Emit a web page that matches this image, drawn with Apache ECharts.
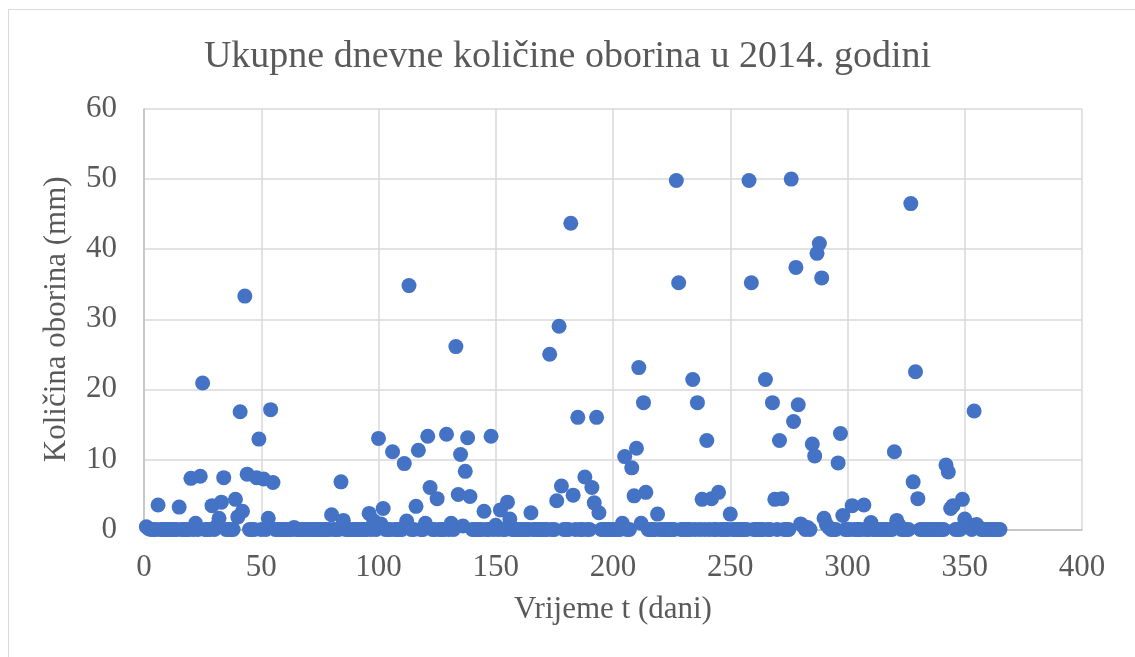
<!DOCTYPE html>
<html>
<head>
<meta charset="utf-8">
<script src="https://cdn.jsdelivr.net/npm/echarts@6/dist/echarts.min.js"></script>
<style>
  html, body { margin: 0; padding: 0; background: #fff; }
  #chart { width: 1135px; height: 657px; }
</style>
</head>
<body>
<div id="chart"></div>
<script>
// dnevne količine oborina (mm), dan 1 .. 365, po 10 dana u retku
var rain = [
  0.4, 0.1, 0, 0, 0, 3.5, 0, 0, 0, 0,
  0, 0, 0, 0, 3.2, 0, 0, 0, 0, 7.3,
  0, 0.9, 0, 7.6, 20.9, 0, 0, 0, 3.4, 0,
  0.5, 1.6, 3.9, 7.4, 0, 0, 0, 0, 4.3, 1.8,
  16.8, 2.6, 33.3, 7.9, 0, 0, 0, 7.4, 12.9, 0,
  7.2, 0, 1.6, 17.1, 6.7, 0, 0, 0, 0, 0,
  0, 0, 0, 0.3, 0, 0, 0, 0, 0, 0,
  0, 0, 0, 0, 0, 0, 0, 0, 0, 2.1,
  0, 0, 0, 6.8, 1.3, 0, 0, 0, 0, 0,
  0, 0, 0, 0, 0, 2.3, 0, 1.2, 0, 13.0,
  0.8, 3.0, 0, 0, 0, 11.1, 0, 0, 0, 0,
  9.4, 1.2, 34.8, 0, 0, 3.3, 11.3, 0, 0, 0.9,
  13.3, 6.0, 0, 0, 4.4, 0, 0, 0, 13.6, 0,
  0.9, 0, 26.1, 5.0, 10.7, 0.5, 8.3, 13.1, 4.7, 0,
  0, 0, 0, 0, 2.6, 0, 0, 13.3, 0, 0.6,
  0, 2.8, 0, 0, 3.9, 1.5, 0, 0, 0, 0,
  0, 0, 0, 0, 2.4, 0, 0, 0, 0, 0,
  0, 0, 25.0, 0, 0, 4.1, 29.0, 6.2, 0, 0,
  0, 43.7, 4.9, 0, 16.0, 0, 0, 7.5, 0, 0,
  6.0, 3.8, 16.0, 2.4, 0, 0, 0, 0, 0, 0,
  0, 0, 0, 0.9, 10.4, 0, 0, 8.8, 4.8, 11.6,
  23.1, 0.9, 18.1, 5.3, 0, 0, 0, 0, 2.2, 0,
  0, 0, 0, 0, 0, 0, 49.8, 35.2, 0, 0,
  0, 0, 0, 21.4, 0, 18.1, 0, 4.3, 0, 12.7,
  0, 4.4, 0, 0, 5.3, 0, 0, 0, 0, 2.2,
  0, 0, 0, 0, 0, 0, 0, 49.8, 35.2, 0,
  0, 0, 0, 0, 21.4, 0, 0, 18.1, 4.3, 0,
  12.7, 4.4, 0, 0, 0, 50.0, 15.4, 37.4, 17.8, 0.8,
  0.5, 0, 0.3, 0, 12.2, 10.5, 39.4, 40.8, 35.9, 1.6,
  0.7, 0.3, 0, 0, 0, 9.5, 13.7, 2.0, 0, 0,
  0, 3.4, 0, 0, 0, 0, 3.5, 0, 0, 1.0,
  0, 0, 0, 0, 0, 0, 0, 0, 0, 11.1,
  1.3, 0.6, 0, 0, 0, 0, 46.5, 6.8, 22.5, 4.4,
  0, 0, 0, 0, 0, 0, 0, 0, 0, 0,
  0, 9.2, 8.2, 3.0, 3.4, 0, 0, 0, 4.3, 1.5,
  0.9, 0.5, 0, 16.9, 0.7, 0.3, 0, 0, 0, 0,
  0, 0, 0, 0, 0
]

var title = 'Ukupne dnevne količine oborina u 2014. godini'
var xName = 'Vrijeme t (dani)'
var yName = 'Količina oborina (mm)'

var font = '"Liberation Serif", "DejaVu Serif", serif'
var textColor = '#595959'
var gridColor = '#d9d9d9'

// parovi [dan, količina]
var points = rain.map(function (v, i) { return [i + 1, v] })

var option = {
  backgroundColor: '#fff',
  title: {
    text: title,
    left: 'center',
    top: 33,
    textStyle: { fontFamily: font, fontSize: 38, fontWeight: 'normal', color: textColor }
  },
  graphic: [{
    type: 'rect',
    shape: { x: 8.5, y: 9.5, width: 1140, height: 660 },
    style: { fill: 'none', stroke: '#d9d9d9', lineWidth: 1 },
    silent: true
  }],
  grid: {
    left: 144,
    right: 53,
    top: 109,
    bottom: 127.5,
    containLabel: false
  },
  xAxis: {
    type: 'value',
    min: 0,
    max: 400,
    interval: 50,
    name: xName,
    nameLocation: 'middle',
    nameGap: 65,
    nameTextStyle: { fontFamily: font, fontSize: 31, color: textColor },
    axisLine: { show: true, lineStyle: { color: '#bfbfbf', width: 1.5 } },
    axisTick: { show: false },
    axisLabel: { fontFamily: font, fontSize: 31, color: textColor, margin: 23 },
    splitLine: { show: true, lineStyle: { color: gridColor, width: 1.5 } }
  },
  yAxis: {
    type: 'value',
    min: 0,
    max: 60,
    interval: 10,
    name: yName,
    nameLocation: 'middle',
    nameGap: 72,
    nameTextStyle: { fontFamily: font, fontSize: 31, color: textColor },
    axisLine: { show: true, lineStyle: { color: '#bfbfbf', width: 1.5 } },
    axisTick: { show: false },
    axisLabel: { fontFamily: font, fontSize: 31, color: textColor, margin: 27 },
    splitLine: { show: true, lineStyle: { color: gridColor, width: 1.5 } }
  },
  series: [{
    type: 'scatter',
    data: points,
    symbolSize: 15,
    itemStyle: { color: '#4472C4', opacity: 1 }
  }]
}

var myChart = echarts.init(document.getElementById('chart'), null, { renderer: 'canvas' })
myChart.setOption(option)
</script>
</body>
</html>
